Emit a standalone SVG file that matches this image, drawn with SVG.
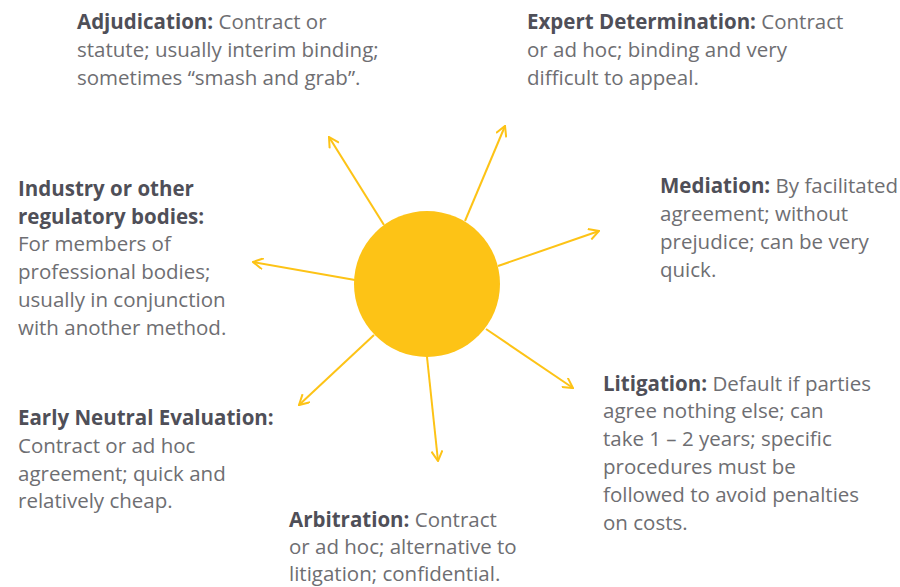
<svg xmlns="http://www.w3.org/2000/svg" width="900" height="587" viewBox="0 0 900 587">
<defs>
<style>
text{font-family:"Open Sans",Lato,"Liberation Sans",sans-serif;font-size:20.5px;fill:#6e6e72}
.b{font-weight:bold;fill:#4f4f58}
.c{stroke:#FDC316;stroke-width:2;fill:none}
</style>
<marker id="ah" viewBox="0 0 12 12" refX="11" refY="6" markerWidth="12" markerHeight="12" markerUnits="userSpaceOnUse" orient="auto">
<path d="M1,0.5 L11,6 L1,11.5" fill="none" stroke="#FDC316" stroke-width="2"/>
</marker>
</defs>
<rect width="900" height="587" fill="#fff"/>
<g id="connectors" class="c">
<line x1="384" y1="225" x2="329" y2="137" marker-end="url(#ah)"/>
<line x1="465" y1="221" x2="505" y2="126" marker-end="url(#ah)"/>
<line x1="498" y1="266" x2="599" y2="231" marker-end="url(#ah)"/>
<line x1="355" y1="280" x2="253" y2="262" marker-end="url(#ah)"/>
<line x1="374" y1="335" x2="299" y2="405" marker-end="url(#ah)"/>
<line x1="427" y1="357" x2="438" y2="461" marker-end="url(#ah)"/>
<line x1="486" y1="329" x2="573" y2="388" marker-end="url(#ah)"/>
</g>
<g id="center"><circle cx="427" cy="284" r="73" fill="#FDC316"/></g>
<g id="adjudication">
<text x="77" y="29"><tspan class="b">Adjudication:</tspan> Contract or</text>
<text x="77" y="57">statute; usually interim binding;</text>
<text x="77" y="85">sometimes “smash and grab”.</text>
</g>
<g id="expert">
<text x="527" y="29"><tspan class="b">Expert Determination:</tspan> Contract</text>
<text x="527" y="57">or ad hoc; binding and very</text>
<text x="527" y="85">difficult to appeal.</text>
</g>
<g id="mediation">
<text x="660" y="193"><tspan class="b">Mediation:</tspan> By facilitated</text>
<text x="660" y="221">agreement; without</text>
<text x="660" y="249">prejudice; can be very</text>
<text x="660" y="277">quick.</text>
</g>
<g id="industry">
<text x="18" y="196" class="b">Industry or other</text>
<text x="18" y="224" class="b">regulatory bodies:</text>
<text x="18" y="251">For members of</text>
<text x="18" y="279">professional bodies;</text>
<text x="18" y="307">usually in conjunction</text>
<text x="18" y="335">with another method.</text>
</g>
<g id="litigation">
<text x="603" y="391"><tspan class="b">Litigation:</tspan> Default if parties</text>
<text x="603" y="418">agree nothing else; can</text>
<text x="603" y="446">take 1 – 2 years; specific</text>
<text x="603" y="474">procedures must be</text>
<text x="603" y="502">followed to avoid penalties</text>
<text x="603" y="530">on costs.</text>
</g>
<g id="ene">
<text x="18" y="425" class="b">Early Neutral Evaluation:</text>
<text x="18" y="453">Contract or ad hoc</text>
<text x="18" y="481">agreement; quick and</text>
<text x="18" y="508">relatively cheap.</text>
</g>
<g id="arbitration">
<text x="289" y="527"><tspan class="b">Arbitration:</tspan> Contract</text>
<text x="289" y="554">or ad hoc; alternative to</text>
<text x="289" y="581">litigation; confidential.</text>
</g>
</svg>
